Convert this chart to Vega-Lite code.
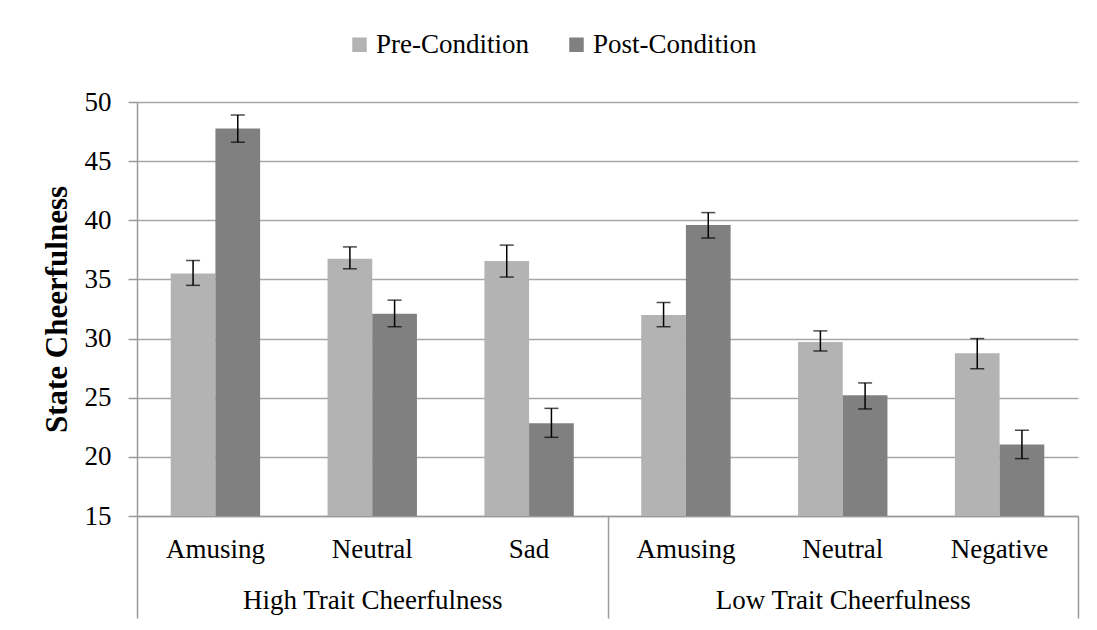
{
  "$schema": "https://vega.github.io/schema/vega-lite/v6.json",
  "width": 941,
  "height": 414,
  "autosize": {"type": "none"},
  "padding": {"left": 137, "top": 102, "right": 19, "bottom": 114},
  "background": "white",
  "config": {
    "font": "Liberation Serif",
    "view": {"stroke": null},
    "axis": {"labelColor": "black", "labelFont": "Liberation Serif", "labelFontSize": 27, "labelLimit": 0, "domainColor": "#9a9a9a", "tickColor": "#9a9a9a", "gridColor": "#a6a6a6"},
    "legend": {"labelFont": "Liberation Serif", "labelFontSize": 27, "labelColor": "black", "labelLimit": 0}
  },
  "data": {
    "values": [
      {"group": "High Trait Cheerfulness", "cat": "H|Amusing", "series": "Pre-Condition", "mean": 35.5, "lo": 34.5, "hi": 36.6},
      {"group": "High Trait Cheerfulness", "cat": "H|Amusing", "series": "Post-Condition", "mean": 47.75, "lo": 46.6, "hi": 48.9},
      {"group": "High Trait Cheerfulness", "cat": "H|Neutral", "series": "Pre-Condition", "mean": 36.75, "lo": 35.9, "hi": 37.75},
      {"group": "High Trait Cheerfulness", "cat": "H|Neutral", "series": "Post-Condition", "mean": 32.1, "lo": 31.0, "hi": 33.25},
      {"group": "High Trait Cheerfulness", "cat": "H|Sad", "series": "Pre-Condition", "mean": 36.55, "lo": 35.2, "hi": 37.9},
      {"group": "High Trait Cheerfulness", "cat": "H|Sad", "series": "Post-Condition", "mean": 22.85, "lo": 21.65, "hi": 24.1},
      {"group": "Low Trait Cheerfulness", "cat": "L|Amusing", "series": "Pre-Condition", "mean": 32.0, "lo": 31.0, "hi": 33.05},
      {"group": "Low Trait Cheerfulness", "cat": "L|Amusing", "series": "Post-Condition", "mean": 39.6, "lo": 38.5, "hi": 40.65},
      {"group": "Low Trait Cheerfulness", "cat": "L|Neutral", "series": "Pre-Condition", "mean": 29.7, "lo": 28.95, "hi": 30.65},
      {"group": "Low Trait Cheerfulness", "cat": "L|Neutral", "series": "Post-Condition", "mean": 25.2, "lo": 24.05, "hi": 26.25},
      {"group": "Low Trait Cheerfulness", "cat": "L|Negative", "series": "Pre-Condition", "mean": 28.75, "lo": 27.45, "hi": 30.0},
      {"group": "Low Trait Cheerfulness", "cat": "L|Negative", "series": "Post-Condition", "mean": 21.05, "lo": 19.85, "hi": 22.25}
    ]
  },
  "layer": [
    {
      "encoding": {
        "x": {
          "field": "cat", "type": "nominal", "sort": null,
          "scale": {"paddingInner": 0.43, "paddingOuter": 0.215},
          "axis": {"title": null, "ticks": false, "domain": true, "domainWidth": 1.5, "labelAngle": 0, "labelPadding": 20, "labelExpr": "split(datum.label, '|')[1]"}
        },
        "xOffset": {"field": "series", "type": "nominal", "sort": ["Pre-Condition", "Post-Condition"]}
      },
      "layer": [
        {
          "mark": {"type": "bar", "clip": true},
          "encoding": {
            "y": {
              "field": "mean", "type": "quantitative",
              "scale": {"domain": [15, 50], "nice": false, "zero": false},
              "axis": {"title": "State Cheerfulness", "titleFont": "Liberation Serif", "titleFontSize": 31, "titleFontWeight": "bold", "titleColor": "black", "titlePadding": 11, "values": [15, 20, 25, 30, 35, 40, 45, 50], "tickSize": 9, "tickWidth": 1.5, "domainWidth": 1.5, "gridWidth": 1.5, "labelPadding": 17, "grid": true}
            },
            "color": {
              "field": "series", "type": "nominal", "sort": ["Pre-Condition", "Post-Condition"],
              "scale": {"domain": ["Pre-Condition", "Post-Condition"], "range": ["#b3b3b3", "#808080"]},
              "legend": {"title": null, "orient": "none", "direction": "horizontal", "legendX": 209, "legendY": -71, "symbolType": "square", "symbolSize": 210, "symbolStrokeWidth": 0, "labelOffset": 3, "columnPadding": 34}
            }
          }
        },
        {
          "mark": {"type": "rule", "color": "black", "strokeWidth": 1.5},
          "encoding": {
            "y": {"field": "lo", "type": "quantitative"},
            "y2": {"field": "hi"}
          }
        },
        {
          "mark": {"type": "tick", "color": "black", "thickness": 1.5, "size": 14, "orient": "horizontal"},
          "encoding": {"y": {"field": "lo", "type": "quantitative"}}
        },
        {
          "mark": {"type": "tick", "color": "black", "thickness": 1.5, "size": 14, "orient": "horizontal"},
          "encoding": {"y": {"field": "hi", "type": "quantitative"}}
        }
      ]
    },
    {
      "mark": {"type": "text"},
      "encoding": {
        "x": {
          "field": "group", "type": "nominal", "sort": null,
          "scale": {"paddingInner": 0, "paddingOuter": 0},
          "axis": {"orient": "bottom", "title": null, "domain": false, "ticks": true, "tickBand": "extent", "tickSize": 102, "tickWidth": 1.5, "labelAngle": 0, "labelPadding": -31}
        },
        "text": {"value": ""}
      }
    }
  ],
  "resolve": {"scale": {"x": "independent"}, "axis": {"x": "independent"}}
}
